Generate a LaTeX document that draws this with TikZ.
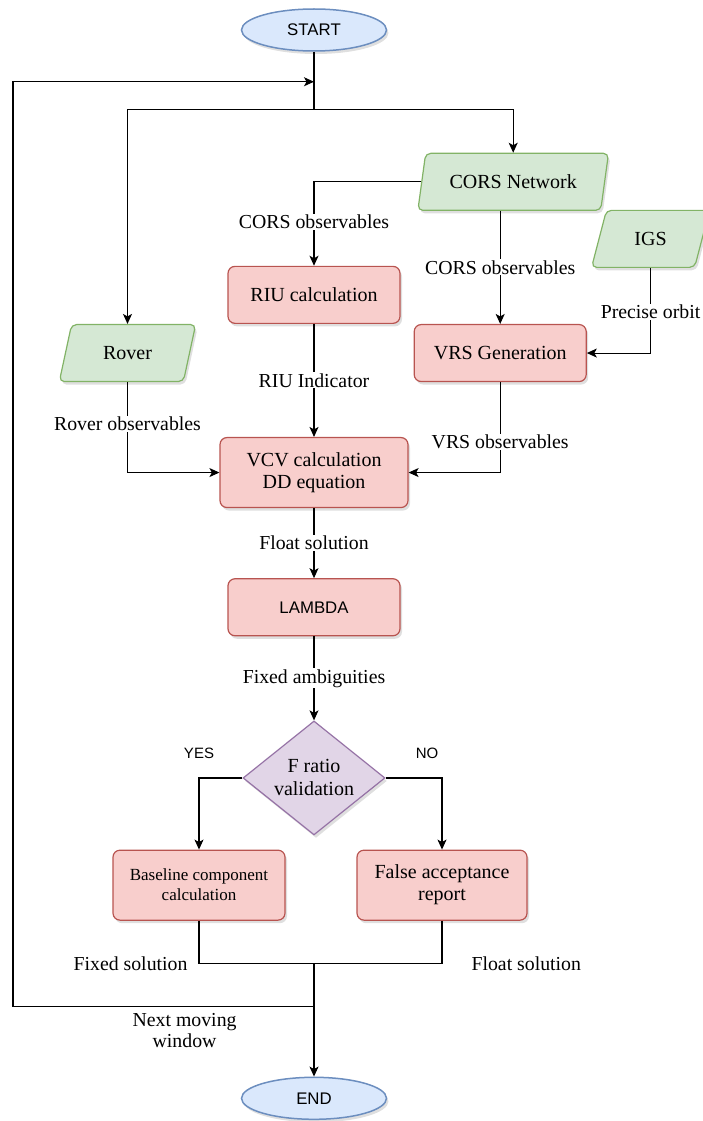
\documentclass[tikz,border=0pt]{standalone}
\usepackage{fontspec}
\setmainfont{Liberation Serif}
\setsansfont{Liberation Sans}
\usetikzlibrary{arrows.meta,positioning,shapes.geometric,shadows,calc}
\definecolor{greenfill}{HTML}{D5E8D4}
\definecolor{greenline}{HTML}{82B366}
\definecolor{redfill}{HTML}{F8CECC}
\definecolor{redline}{HTML}{B85450}
\definecolor{purplefill}{HTML}{E1D5E7}
\definecolor{purpleline}{HTML}{9673A6}
\definecolor{bluefill}{HTML}{DAE8FC}
\definecolor{blueline}{HTML}{6C8EBF}

\begin{document}
\begin{tikzpicture}[x=1pt, y=1pt, line width=1.1pt, >={Stealth[length=10pt,width=9pt,inset=2.5pt]}]
	\tikzstyle{shade}=[drop shadow={shadow xshift=2pt, shadow yshift=-3pt, opacity=0.25}]
	\tikzstyle{rect}=[draw=redline, fill=redfill, rounded corners=7pt, line width=1.2pt, shade, minimum width=172pt, minimum height=57pt, inner sep=0pt, align=center, font=\fontsize{20}{22}\selectfont]
	\tikzstyle{rect_l}=[rect, minimum height=70pt]
	\tikzstyle{io}=[draw=greenline, fill=greenfill, trapezium, trapezium left angle=68, trapezium right angle=112, trapezium stretches=true, rounded corners=5pt, line width=1.2pt, shade, minimum height=57pt, inner sep=0pt, font=\fontsize{20}{22}\selectfont]
	\tikzstyle{decision}=[draw=purpleline, fill=purplefill, diamond, aspect=1.25, line width=1.2pt, shade, minimum width=142pt, minimum height=114pt, inner sep=0pt, align=center, font=\fontsize{20}{23}\selectfont]
	\tikzstyle{terminal}=[draw=blueline, fill=bluefill, ellipse, line width=1.5pt, shade, minimum width=145pt, minimum height=42pt, inner sep=0pt, font=\sffamily\fontsize{16.8}{19}\selectfont]
	\tikzstyle{lbl}=[fill=white, inner sep=1pt, font=\fontsize{19.8}{21}\selectfont]
	\tikzstyle{tag}=[inner sep=1pt, font=\sffamily\fontsize{15}{18}\selectfont]

	\useasboundingbox (0,0) rectangle (702,-1121);

	\node[terminal] (start) at (314,-30) {START};

	\node[rect] (riu) [below=214pt of start] {RIU calculation};
	\node[rect] (vrs) [below right=0pt and 13pt of riu] {VRS Generation};
	\node[io, minimum width=191pt] (cors) [above=113pt of vrs, xshift=13pt] {CORS Network};
	\node[io, minimum width=118pt] (igs) [above right=56pt and 4pt of vrs, anchor=bottom left corner] {IGS};
	\node[io, minimum width=137pt] (rover) [below left=0pt and 31pt of riu, anchor=top right corner] {Rover};

	\node[rect_l, minimum width=188pt] (vcv) [below=113pt of riu] {VCV calculation\\DD equation};
	\node[rect, font=\sffamily\fontsize{16.8}{19}\selectfont] (lambda) [below=70pt of vcv] {LAMBDA};
	\node[decision] (fratio) [below=84pt of lambda] {F ratio\\validation};

	\node[rect_l, font=\fontsize{17}{20}\selectfont] (base) [below=14pt of fratio, xshift=-115pt] {Baseline component\\calculation};
	\node[rect_l, minimum width=170pt] (false) [below=14pt of fratio, xshift=128pt] {False acceptance\\report};

	\node[terminal] (end) [below=241pt of fratio] {END};

	% split below start
	\coordinate[below=58pt of start] (split);
	\coordinate[below=30pt of start] (entry);
	\draw (start) -- (split);
	\draw[->] (split) -| (rover);
	\draw[->] (split) -| (cors);

	\draw[->] (cors.west) -| (riu) node[lbl, pos=0.74] {CORS observables};
	\draw[->] (vrs |- cors.south) -- (vrs) node[lbl, midway] {CORS observables};
	\draw[->] (igs) |- (vrs) node[lbl, pos=0.26] {Precise orbit};

	\draw[->] (riu) -- (vcv) node[lbl, midway] {RIU Indicator};
	\draw[->] (rover) |- (vcv) node[lbl, pos=0.23] {Rover observables};
	\draw[->] (vrs) |- (vcv) node[lbl, pos=0.33] {VRS observables};

	\draw[->] (vcv) -- (lambda) node[lbl, midway] {Float solution};
	\draw[->] (lambda) -- (fratio) node[lbl, midway] {Fixed ambiguities};

	\draw[->] (fratio) -| (base) node[tag, pos=0.5, above=18pt] {YES};
	\draw[->] (fratio) -| (false) node[tag, pos=0.5, above=18pt, xshift=-15pt] {NO};

	% results merge
	\coordinate (join) at ($(base.south -| fratio)+(0,-43)$);
	\coordinate (back) at ($(join)+(0,-43)$);
	\draw (base) |- (join) node[lbl, pos=0.5, left=10pt] {Fixed solution};
	\draw (false) |- (join) node[lbl, pos=0.5, right=28pt] {Float solution};
	\draw[->] (join) -- (end);

	% loop back to the top
	\draw[->] (back) -- ++(-301,0) node[lbl, pos=0.43, below=5pt, align=center] {Next moving\\window} |- (entry);
\end{tikzpicture}
\end{document}
